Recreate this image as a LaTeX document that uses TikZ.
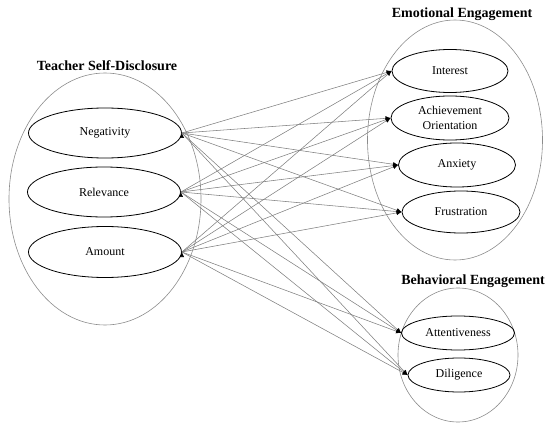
\documentclass[tikz,border=0pt]{standalone}
\usepackage{fontspec}
\setmainfont{Liberation Serif}
\usepackage{tikz}
\usetikzlibrary{arrows.meta,shapes.geometric}

\begin{document}
\begin{tikzpicture}[
  x=1pt,y=-1pt,
  font=\fontsize{12}{14.5}\selectfont,
  group/.style={draw=black!45,ellipse,inner sep=0pt,line width=0.6pt},
  factor/.style={draw=black,ellipse,inner sep=0pt,line width=0.8pt,align=center},
  heading/.style={font=\fontsize{14}{16}\selectfont\bfseries},
  path/.style={draw=black!50,line width=0.55pt,-{Latex[length=5pt,width=4.5pt,color=black]}}
]
  \useasboundingbox (0,0) rectangle (550,428);

  % Teacher self-disclosure
  \node[group,minimum width=192pt,minimum height=252pt] (tsd) at (105,199) {};
  \node[heading] (tsdt) at (107,66) {Teacher Self-Disclosure};
  \node[factor,minimum width=153pt,minimum height=50pt] (neg) at (105,133) {Negativity};
  \node[factor,minimum width=153pt,minimum height=50pt] (rel) at (104,192) {Relevance};
  \node[factor,minimum width=153pt,minimum height=51pt] (amt) at (105,252) {Amount};

  % Emotional engagement
  \node[group,minimum width=175pt,minimum height=240pt] (emo) at (455,140) {};
  \node[heading] (emot) at (462,14) {Emotional Engagement};
  \node[factor,minimum width=116pt,minimum height=43pt] (int) at (450,71) {Interest};
  \node[factor,minimum width=118pt,minimum height=44pt] (ach) at (450,118) {Achievement\\Orientation};
  \node[factor,minimum width=117pt,minimum height=44pt] (anx) at (457,165) {Anxiety};
  \node[factor,minimum width=118pt,minimum height=42pt] (fru) at (461,212) {Frustration};

  % Behavioral engagement
  \node[group,minimum width=120pt,minimum height=134pt] (beh) at (458,355) {};
  \node[heading] (beht) at (473,281) {Behavioral Engagement};
  \node[factor,minimum width=113pt,minimum height=34pt] (att) at (458,333) {Attentiveness};
  \node[factor,minimum width=102pt,minimum height=34pt] (dil) at (459,375) {Diligence};

  % paths
  \draw[path] (neg.east) edge (int.west) edge (ach.west) edge (anx.west)
    edge (fru.west) edge (att.west) edge (dil.west);
  \draw[path] (rel.east) edge (int.west) edge (ach.west) edge (anx.west)
    edge (fru.west) edge (att.west) edge (dil.west);
  \draw[path] (amt.east) edge (int.west) edge (ach.west) edge (anx.west)
    edge (fru.west) edge (att.west) edge (dil.west);
\end{tikzpicture}
\end{document}
